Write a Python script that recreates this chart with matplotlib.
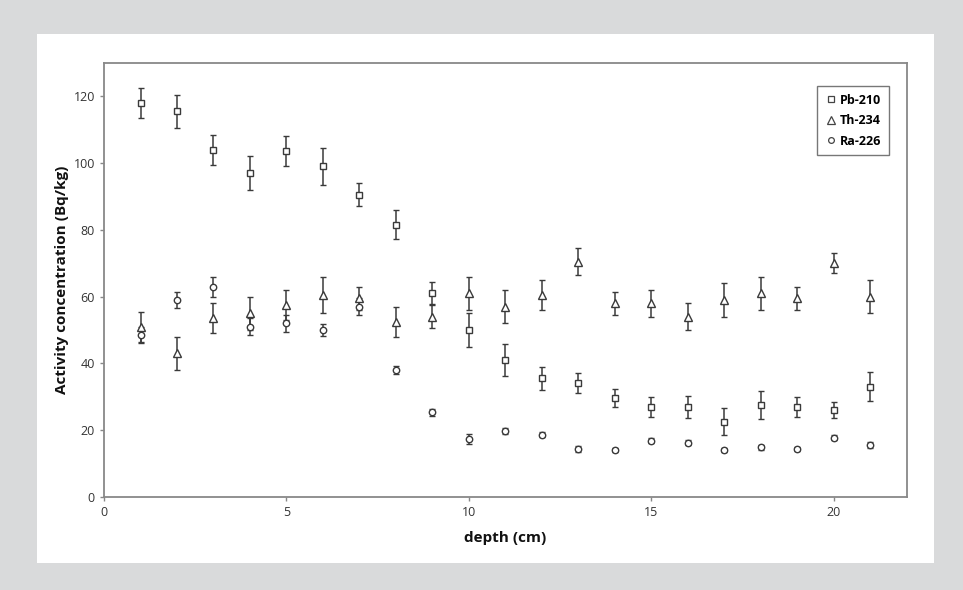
import matplotlib

matplotlib.use("Agg")
import matplotlib.pyplot as plt
from matplotlib.lines import Line2D

plt.rcParams["font.family"] = ["Open Sans", "DejaVu Sans"]

depth = list(range(1, 22))

pb210 = [118, 115.5, 104, 97, 103.5, 99, 90.5, 81.5, 61, 50, 41,
         35.5, 34, 29.5, 27, 27, 22.5, 27.5, 27, 26, 33]
pb210_err = [4.5, 5, 4.5, 5, 4.5, 5.5, 3.5, 4.3, 3.3, 5, 4.7,
             3.5, 3, 2.7, 3, 3.3, 4, 4.2, 3, 2.3, 4.3]

th234 = [51, 43, 53.5, 55, 57.5, 60.5, 59.5, 52.5, 54, 61, 57,
         60.5, 70.5, 58, 58, 54, 59, 61, 59.5, 70, 60]
th234_err = [4.5, 5, 4.5, 5, 4.5, 5.5, 3.5, 4.5, 3.5, 5, 5,
             4.5, 4, 3.5, 4, 4, 5, 5, 3.5, 3, 5]

ra226 = [48.5, 59, 63, 51, 52, 50, 57, 38, 25.3, 17.2, 19.7,
         18.6, 14.3, 14, 16.8, 16.2, 14, 14.8, 14.3, 17.7, 15.6]
ra226_err = [2.5, 2.5, 3, 2.5, 2.5, 1.8, 2.5, 1.2, 1, 1.5, 1,
             0.8, 0.8, 0.5, 0.7, 0.7, 0.7, 0.8, 0.6, 0.7, 0.9]

SERIES = [
    ("Pb-210", pb210, pb210_err, "s", 5.0),
    ("Th-234", th234, th234_err, "^", 6.0),
    ("Ra-226", ra226, ra226_err, "o", 4.6),
]

fig = plt.figure(figsize=(9.63, 5.90), dpi=100, facecolor="#d9dadb")

# white card behind the chart
card = fig.add_axes([0.0384, 0.0458, 0.9316, 0.8966], zorder=0)
card.set_facecolor("white")
card.set_xticks([])
card.set_yticks([])
for s in card.spines.values():
    s.set_visible(False)

ax = fig.add_axes([0.108, 0.1581, 0.8338, 0.7351], zorder=1)
ax.set_facecolor("white")

for label, vals, errs, marker, ms in SERIES:
    ax.errorbar(depth, vals, yerr=errs, fmt=marker, markersize=ms,
                markerfacecolor="white", markeredgecolor="#3a3a3a", markeredgewidth=1.0,
                ecolor="#3a3a3a", elinewidth=1.1, capsize=2.5, capthick=1.1,
                label=label, zorder=3)

ax.set_xlim(0, 22)
ax.set_ylim(0, 130)
ax.set_xticks([0, 5, 10, 15, 20])
ax.set_yticks(range(0, 121, 20))

for side in ["left", "bottom", "top", "right"]:
    ax.spines[side].set_color("#888888")
    ax.spines[side].set_linewidth(1.3)
ax.tick_params(axis="both", direction="out", length=3, width=1, color="#888888",
               labelsize=9, labelcolor="#333333")

ax.set_xlabel("depth (cm)", fontsize=11, fontweight="bold", color="#111111", labelpad=9)
ax.set_ylabel("Activity concentration (Bq/kg)", fontsize=11, fontweight="bold",
              color="#111111", labelpad=3)

leg_handles = [Line2D([], [], linestyle="none", marker=m, markersize=ms * 0.9,
                      markerfacecolor="white", markeredgecolor="#444444", markeredgewidth=0.9)
               for _, _, _, m, ms in SERIES]
leg = ax.legend(leg_handles, [s[0] for s in SERIES], loc="upper right",
                bbox_to_anchor=(0.985, 0.961), frameon=True, fancybox=False,
                handletextpad=0.2, handlelength=1.0, borderpad=0.6, labelspacing=0.6,
                prop={"weight": "bold", "size": 9})
leg.get_frame().set_edgecolor("#555555")
leg.get_frame().set_linewidth(1.0)

fig.savefig("out.png", dpi=100, facecolor=fig.get_facecolor())
